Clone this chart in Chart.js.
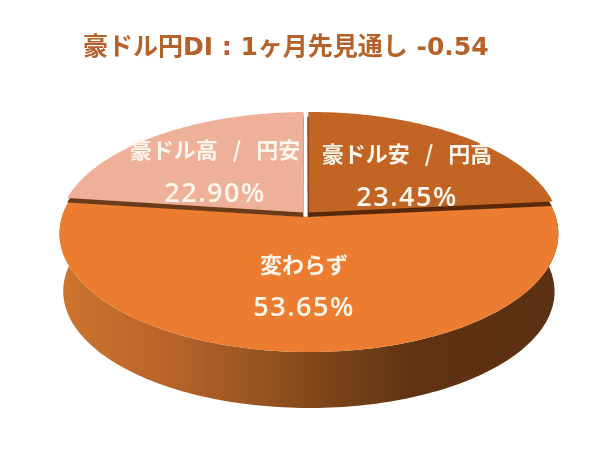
<!DOCTYPE html>
<html lang="ja">
<head>
<meta charset="utf-8">
<title>豪ドル円DI</title>
<style>
  html, body { margin: 0; padding: 0; background: #fff; }
  #wrap { position: relative; width: 600px; height: 469px; }
</style>
</head>
<body>
<div id="wrap"><canvas id="pieChart"></canvas></div>
<script src="https://cdn.jsdelivr.net/npm/chart.js@4"></script>
<script>
// data
const categories = ['豪ドル安 / 円高', '変わらず', '豪ドル高 / 円安'];
const values = [23.45, 53.65, 22.90];
const sliceColors = ['#C26524', '#EB7C30', '#EEB098'];
const titleText = '豪ドル円DI : 1ヶ月先見通し -0.54';

// label centres in pixels, same order as categories
const labelBoxes = [
    { x: 407, y1: 154, y2: 198 },
    { x: 304, y1: 265, y2: 308 },
    { x: 215, y1: 150, y2: 194 }
];

// tilted 3D look: unit circle -> screen
const tilt = { bx: 246, ay: 115.2, k: 0.1417, m: -0.012 };
const wall = { drop: 58, shrink: 0.985 };

function project(arc, ux, uy, scale = 1, drop = 0) {
    const d = 1 - tilt.k * uy + tilt.m * ux;
    return {
        x: arc.x + scale * tilt.bx * ux / d,
        y: arc.y + drop + scale * tilt.ay * uy / d
    };
}

function rimPoints(arc, scale, drop) {
    const off = (arc.options.offset || 0) / tilt.bx;
    const mid = (arc.startAngle + arc.endAngle) / 2;
    const ox = Math.cos(mid) * off, oy = Math.sin(mid) * off;
    const pts = [];
    const steps = 160;
    for (let i = 0; i <= steps; i++) {
        const a = arc.startAngle + (arc.endAngle - arc.startAngle) * i / steps;
        pts.push(project(arc, Math.cos(a) + ox, Math.sin(a) + oy, scale, drop));
    }
    pts.apex = project(arc, ox, oy, scale, drop);
    return pts;
}

function traceSlice(ctx, pts, dx = 0, dy = 0) {
    ctx.beginPath();
    ctx.moveTo(pts.apex.x + dx, pts.apex.y + dy);
    pts.forEach(p => ctx.lineTo(p.x + dx, p.y + dy));
    ctx.closePath();
}

const tiltedPie = {
    id: 'tiltedPie',
    beforeDatasetsDraw(chart) {
        const ctx = chart.ctx;
        const arcs = chart.getDatasetMeta(0).data;
        const front = arcs[1];

        // side wall of the big slice
        const topRim = rimPoints(front, 1, 0);
        const lowRim = rimPoints(front, wall.shrink, wall.drop);
        const grad = ctx.createLinearGradient(66, 0, 553, 0);
        grad.addColorStop(0, '#CB742F');
        grad.addColorStop(0.2, '#B9652A');
        grad.addColorStop(0.4, '#96541F');
        grad.addColorStop(0.55, '#7A431A');
        grad.addColorStop(0.72, '#5F3213');
        grad.addColorStop(1, '#5C3012');
        ctx.save();
        ctx.beginPath();
        topRim.forEach((p, i) => i ? ctx.lineTo(p.x, p.y) : ctx.moveTo(p.x, p.y));
        lowRim.slice().reverse().forEach(p => ctx.lineTo(p.x, p.y));
        ctx.closePath();
        ctx.fillStyle = grad;
        ctx.fill();

        traceSlice(ctx, topRim);
        ctx.fillStyle = front.options.backgroundColor;
        ctx.fill();

        // upper slices with the dark edge under them
        traceSlice(ctx, rimPoints(arcs[2], 1, 0), 0, 4.5);
        ctx.fillStyle = '#6B3A18';
        ctx.fill();
        traceSlice(ctx, rimPoints(arcs[0], 1, 0), -1, 4.5);
        ctx.fillStyle = '#5A2808';
        ctx.fill();
        [arcs[2], arcs[0]].forEach(arc => {
            traceSlice(ctx, rimPoints(arc, 1, 0));
            ctx.fillStyle = arc.options.backgroundColor;
            ctx.fill();
        });
        ctx.restore();
        return false;
    },
    afterDraw(chart) {
        const ctx = chart.ctx;
        ctx.save();
        ctx.fillStyle = '#FDF6EC';
        ctx.textAlign = 'center';
        ctx.textBaseline = 'middle';
        categories.forEach((name, i) => {
            const box = labelBoxes[i];
            ctx.letterSpacing = '0px';
            ctx.wordSpacing = '10px';
            ctx.font = '700 22px "Noto Sans CJK JP"';
            ctx.fillText(name, box.x, box.y1);
            ctx.wordSpacing = '0px';
            ctx.letterSpacing = '1.5px';
            ctx.font = '600 27px "Open Sans"';
            ctx.fillText(values[i].toFixed(2) + '%', box.x, box.y2);
        });
        ctx.restore();
    }
};

new Chart(document.getElementById('pieChart'), {
    type: 'pie',
    data: {
        labels: categories,
        datasets: [{
            data: values,
            backgroundColor: sliceColors,
            borderWidth: 0,
            offset: [4, 6, 4]
        }]
    },
    options: {
        responsive: true,
        maintainAspectRatio: false,
        animation: false,
        layout: { padding: { left: 83, right: 71, top: 33, bottom: 104 } },
        plugins: {
            legend: { display: false },
            tooltip: { enabled: false },
            title: {
                display: true,
                text: titleText,
                align: 'start',
                color: '#B5622A',
                font: { family: '"DejaVu Sans", "Noto Sans CJK JP"', size: 25, weight: 'bold', lineHeight: 1.2 },
                padding: 0
            }
        }
    },
    plugins: [tiltedPie]
});
</script>
</body>
</html>
